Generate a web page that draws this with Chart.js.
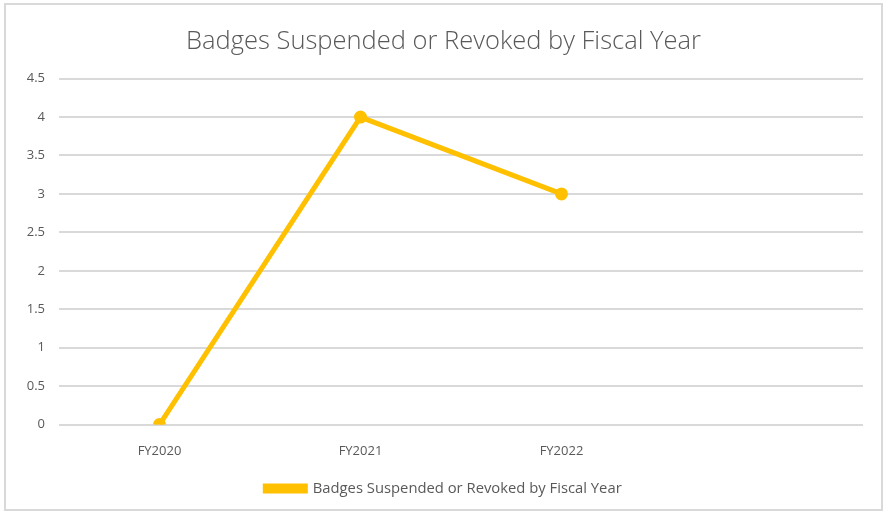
<!DOCTYPE html>
<html>
<head>
<meta charset="utf-8">
<script src="https://cdn.jsdelivr.net/npm/chart.js@4"></script>
<style>
html,body{margin:0;padding:0;background:#fff;}
#wrap{position:absolute;left:4px;top:3px;width:879px;height:508px;border:2px solid #d9d9d9;box-sizing:border-box;}
#c{position:absolute;left:0;top:0;}
</style>
</head>
<body>
<div id="wrap"><canvas id="c" width="875" height="504"></canvas></div>
<script>
const title = 'Badges Suspended or Revoked by Fiscal Year';
const categories = ['FY2020', 'FY2021', 'FY2022', ''];
const values = [0, 4, 3, null];
const seriesName = 'Badges Suspended or Revoked by Fiscal Year';

const gold = '#FFC000';
const textGray = '#595959';
const fontFam = "'Open Sans', 'Noto Sans', sans-serif";

new Chart(document.getElementById('c'), {
  type: 'line',
  data: {
    labels: categories,
    datasets: [{
      label: seriesName,
      data: values,
      borderColor: gold,
      backgroundColor: gold,
      borderWidth: 5,
      pointRadius: 4,
      pointBackgroundColor: gold,
      pointBorderColor: gold,
      tension: 0,
      spanGaps: false
    }]
  },
  options: {
    responsive: false,
    animation: false,
    layout: { padding: { left: 18, right: 18, top: 0, bottom: 3 } },
    plugins: {
      title: {
        display: true,
        text: title,
        color: textGray,
        font: { family: fontFam, size: 25.5, weight: '300' },
        padding: { top: 21, bottom: 22 }
      },
      legend: {
        position: 'bottom',
        labels: {
          color: textGray,
          font: { family: fontFam, size: 14.8 },
          boxWidth: 40,
          boxHeight: 5,
          padding: 3
        }
      },
      tooltip: { enabled: false }
    },
    scales: {
      x: {
        offset: true,
        grid: { display: false, drawTicks: false },
        border: { display: false },
        ticks: { color: textGray, font: { family: fontFam, size: 13 }, padding: 19 }
      },
      y: {
        min: 0,
        max: 4.5,
        grid: { color: '#d9d9d9', lineWidth: 2, drawTicks: false },
        border: { display: false },
        afterFit: (s) => { s.width = 35; },
        ticks: {
          stepSize: 0.5, color: textGray, font: { family: fontFam, size: 13 }, padding: 14,
          callback: (v) => String(Number(v))
        }
      }
    }
  }
});
</script>
</body>
</html>
